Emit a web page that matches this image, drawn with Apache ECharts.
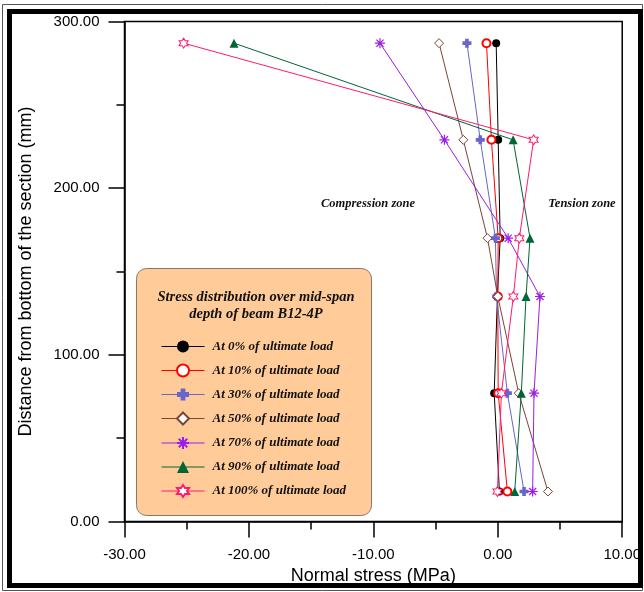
<!DOCTYPE html>
<html>
<head>
<meta charset="utf-8">
<script src="https://cdn.jsdelivr.net/npm/echarts@6/dist/echarts.min.js"></script>
<style>
html,body{margin:0;padding:0;background:#fff;}
#main{width:644px;height:592px;}
</style>
</head>
<body>
<div id="main"></div>
<script>
// ---- data ----
var depths = [287, 229, 170, 135, 77, 18];
var seriesNames = ['At 0% of ultimate load','At 10% of ultimate load','At 30% of ultimate load','At 50% of ultimate load','At 70% of ultimate load','At 90% of ultimate load','At 100% of ultimate load'];
var stress0   = [-0.13, 0.03, 0.19, -0.03, -0.29, 0.13];
var stress10  = [-0.91, -0.51, 0.03, 0.00, 0.03, 0.77];
var stress30  = [-2.48, -1.41, -0.19, -0.10, 0.77, 2.11];
var stress50  = [-4.72, -2.77, -0.83, 0.00, 1.68, 4.03];
var stress70  = [-9.47, -4.29, 0.83, 3.39, 2.91, 2.80];
var stress90  = [-21.20, 1.23, 2.59, 2.27, 1.89, 1.36];
var stress100 = [-25.25, 2.88, 1.73, 1.25, 0.29, -0.03];
var xTicks = [-30, -20, -10, 0, 10];
var yTicks = [0, 100, 200, 300];
var legendTitle = ['Stress distribution over mid-span', 'depth of beam B12-4P'];
var zoneLabels = ['Compression zone', 'Tension zone'];

// ---- styling ----
var allStress = [stress0, stress10, stress30, stress50, stress70, stress90, stress100];
var colors = ['#000000', '#ff0000', '#6666cc', '#7a4536', '#9b1fe8', '#006633', '#ff1a6e'];
var plusPath = 'path://M3,0H7V3H10V7H7V10H3V7H0V3H3Z';
var asteriskPath = 'path://M5,0L5,10M0,5L10,5M1.46,1.46L8.54,8.54M8.54,1.46L1.46,8.54';
var starPath = 'path://M10,0L12.89,5L18.66,5L15.77,10L18.66,15L12.89,15L10,20L7.11,15L1.34,15L4.23,10L1.34,5L7.11,5Z';
var symbols = [
  {symbol:'circle', size:8, item:{color:'#000'}},
  {symbol:'emptyCircle', size:8, item:{color:'#ff0000', borderWidth:1}},
  {symbol:plusPath, size:9, item:{color:'#6666cc'}},
  {symbol:'path://M5,0L10,5L5,10L0,5Z', size:9, item:{color:'#fff', borderColor:'#7a4536', borderWidth:1}},
  {symbol:asteriskPath, size:10, item:{color:'rgba(0,0,0,0)', borderColor:'#9b1fe8', borderWidth:1.2}},
  {symbol:'triangle', size:9, item:{color:'#006633'}},
  {symbol:starPath, size:[9,10], item:{color:'#fff', borderColor:'#ff1a6e', borderWidth:1}}
];

var series = allStress.map(function(arr, i){
  return {
    name: seriesNames[i],
    type: 'line',
    data: arr.map(function(v, k){ return [v, depths[k]]; }),
    symbol: symbols[i].symbol,
    symbolSize: symbols[i].size,
    showAllSymbol: true,
    itemStyle: symbols[i].item,
    lineStyle: {color: colors[i], width: 1},
    emphasis: {disabled: true},
    z: 3
  };
});

var sans = '"Liberation Sans", Arial, sans-serif';
var serif = '"Liberation Serif", "Times New Roman", serif';

var chart = echarts.init(document.getElementById('main'), null, {renderer:'canvas'});
chart.setOption({
  animation: false,
  backgroundColor: '#fff',
  grid: {left: 124.5, top: 21.5, width: 499, height: 500, show: true, borderColor: '#000', borderWidth: 1.5, backgroundColor: 'rgba(0,0,0,0)'},
  xAxis: {
    type: 'value', min: -30, max: 10, interval: 10,
    name: 'Normal stress (MPa)', nameLocation: 'middle', nameGap: 43,
    nameTextStyle: {fontFamily: sans, fontSize: 18, color: '#000'},
    axisLine: {onZero: false, lineStyle: {color: '#000', width: 1.5}},
    axisTick: {show: true, inside: false, length: 16, lineStyle: {color: '#000', width: 1.5}},
    minorTick: {show: true, splitNumber: 2, length: 8, lineStyle: {color: '#000', width: 1.5}},
    splitLine: {show: false},
    axisLabel: {margin: 26, fontFamily: sans, fontSize: 15, color: '#000', formatter: function(v){ return v.toFixed(2); }, showMaxLabel: true, showMinLabel: true}
  },
  yAxis: {
    type: 'value', min: 0, max: 300, interval: 100,
    name: 'Distance from bottom of the section (mm)', nameLocation: 'middle', nameGap: 89,
    nameTextStyle: {fontFamily: sans, fontSize: 18, color: '#000'},
    axisLine: {onZero: false, lineStyle: {color: '#000', width: 1.5}},
    axisTick: {show: true, inside: false, length: 16, lineStyle: {color: '#000', width: 1.5}},
    minorTick: {show: true, splitNumber: 2, length: 8, lineStyle: {color: '#000', width: 1.5}},
    splitLine: {show: false},
    axisLabel: {margin: 25, fontFamily: sans, fontSize: 15, color: '#000', formatter: function(v){ return v.toFixed(2); }}
  },
  legend: {
    show: true, orient: 'vertical', left: 156, top: 335,
    itemWidth: 43, itemHeight: 15, itemGap: 9.4 + 1.1,
    selectedMode: false,
    data: seriesNames,
    lineStyle: {width: 1},
    textStyle: {fontFamily: serif, fontSize: 13, fontWeight: 'bold', fontStyle: 'italic', color: '#111', padding: [0,0,0,3]},
    z: 10
  },
  graphic: [
    {type:'rect', shape:{x:2.5, y:4.5, width:640, height:586}, style:{fill:'none', stroke:'#555', lineWidth:1}, silent:true, z:100},
    {type:'rect', shape:{x:9.5, y:11.5, width:631, height:574}, style:{fill:'none', stroke:'#000', lineWidth:5}, silent:true, z:100},
    {type:'rect', shape:{x:136.5, y:268.5, width:235, height:247, r:10}, style:{fill:'#ffcc99', stroke:'#8a7866', lineWidth:1}, silent:true, z:5},
    {type:'text', x:256, y:297, style:{text:legendTitle[0], fontFamily:serif, fontSize:14.5, fontWeight:'bold', fontStyle:'italic', fill:'#111', align:'center', verticalAlign:'middle'}, silent:true, z:6},
    {type:'text', x:256, y:314, style:{text:legendTitle[1], fontFamily:serif, fontSize:14.5, fontWeight:'bold', fontStyle:'italic', fill:'#111', align:'center', verticalAlign:'middle'}, silent:true, z:6},
    {type:'text', x:368, y:204, style:{text:zoneLabels[0], fontFamily:serif, fontSize:12.5, fontWeight:'bold', fontStyle:'italic', fill:'#111', align:'center', verticalAlign:'middle'}, silent:true, z:6},
    {type:'text', x:582, y:204, style:{text:zoneLabels[1], fontFamily:serif, fontSize:12.5, fontWeight:'bold', fontStyle:'italic', fill:'#111', align:'center', verticalAlign:'middle'}, silent:true, z:6}
  ],
  series: series
});
</script>
</body>
</html>
